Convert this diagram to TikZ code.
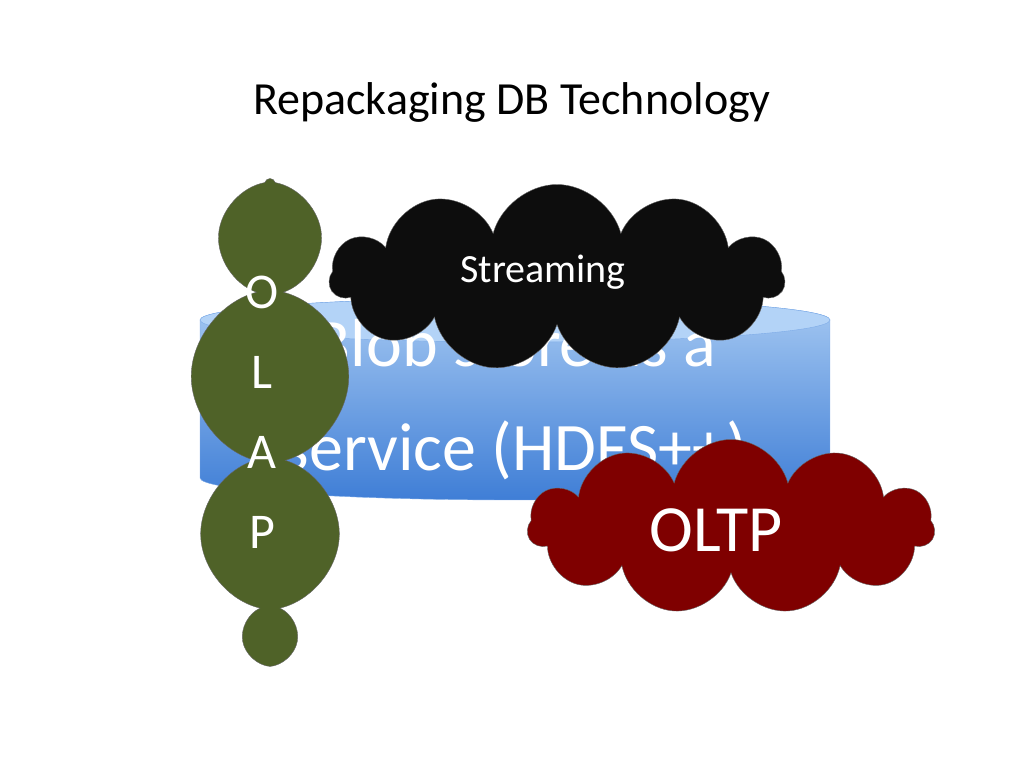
\documentclass[tikz,border=0pt]{standalone}
\usepackage{fontspec}
\setmainfont{Carlito}
\usetikzlibrary{shapes.symbols}
\definecolor{olapgreen}{HTML}{4F6228}
\definecolor{oltpred}{HTML}{7F0000}
\definecolor{blobtop}{HTML}{B3D3F7}
\definecolor{blobhi}{HTML}{A6C9F2}
\definecolor{bloblo}{HTML}{3F7ED6}
\tikzset{
	puff/.style={cloud, cloud puffs=#1, cloud ignores aspect, draw=black!60, thin, inner sep=0pt},
	puff/.default=11
}
\begin{document}
\begin{tikzpicture}[x=1pt,y=1pt]
		\useasboundingbox (0,0) rectangle (1024,768);
		% title
			\node (title) [font=\fontsize{46}{50}\selectfont] at (512,666) {Repackaging DB Technology};
		% blob store
			\shade [top color=blobhi, bottom color=bloblo, draw=blobhi!60!bloblo, thin]
				(200,448) -- (200,290) arc [start angle=180, end angle=360, x radius=315, y radius=22]
				-- (830,448) arc [start angle=0, end angle=180, x radius=315, y radius=22] -- cycle;
			\fill [blobtop, draw=blobhi!60!bloblo, thin] (515,448) ellipse [x radius=315, y radius=22];
			\node (blob) [text=white, align=center, font=\fontsize{68}{104}\selectfont] at (515,368)
				{Blob store as a\\service (HDFS++)};
		% clouds
			\node (olap) [puff=9, fill=olapgreen, minimum width=160, minimum height=477] at (270,351) {};
			\node [text=white, align=center, font=\fontsize{50}{80}\selectfont] at (262,356) {O\\L\\A\\P};
			\node (stream) [puff=11, fill=black!95, minimum width=455, minimum height=187] at (557,490) {};
			\node [text=white, font=\fontsize{40}{44}\selectfont] at (543,496) {Streaming};
			\node (oltp) [puff=11, fill=oltpred, minimum width=407, minimum height=175] at (731,241) {};
			\node [text=white, font=\fontsize{66}{70}\selectfont] at (716,238) {OLTP};
	\end{tikzpicture}
\end{document}
